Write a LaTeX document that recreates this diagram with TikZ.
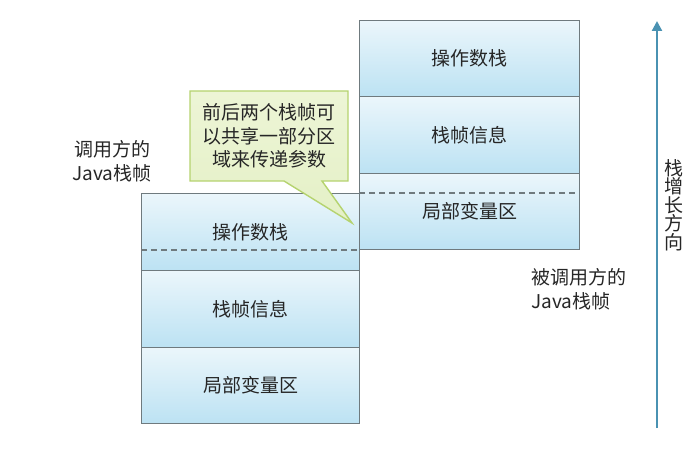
\documentclass[tikz,border=0pt]{standalone}
\usepackage{fontspec}
\setmainfont{Noto Sans CJK SC}
\usetikzlibrary{arrows.meta}
\definecolor{txt}{HTML}{262626}
\definecolor{boxline}{HTML}{6F7A7E}
\definecolor{celltop}{HTML}{EBF6FB}
\definecolor{cellbot}{HTML}{BCE2F3}
\definecolor{notefill}{HTML}{E4F0C6}
\definecolor{notetop}{HTML}{EDF5D6}
\definecolor{noteline}{HTML}{B5D36F}
\definecolor{arrowc}{HTML}{4A92B2}
\begin{document}
\begin{tikzpicture}[x=1pt,y=-1pt,
  cell/.style={draw=boxline, line width=1pt, top color=celltop, bottom color=cellbot,
    inner sep=0pt, anchor=north west, font=\fontsize{19}{23.5}\selectfont, text=txt},
  leftcell/.style={cell, minimum width=218pt},
  rightcell/.style={cell, minimum width=220pt},
  dashline/.style={draw=boxline, line width=1.2pt, dash pattern=on 6pt off 4pt},
  lbl/.style={font=\fontsize{19}{23.5}\selectfont, text=txt, inner sep=0pt},
  growarrow/.style={draw=arrowc, line width=2.2pt, -{Triangle[width=10pt,length=10pt]}}]
\useasboundingbox (0,0) rectangle (699,460);
% left (caller) frame
\node[leftcell, minimum height=77pt] (L1) at (141,193) {操作数栈};
\node[leftcell, minimum height=77pt] (L2) at (141,270) {栈帧信息};
\node[leftcell, minimum height=76pt] (L3) at (141,347) {局部变量区};
\draw[dashline] ([yshift=21pt]L1.south west) -- ([yshift=21pt]L1.south east);
% right (callee) frame
\node[rightcell, minimum height=76pt] (R1) at (359,20) {操作数栈};
\node[rightcell, minimum height=77pt] (R2) at (359,96) {栈帧信息};
\node[rightcell, minimum height=76pt] (R3) at (359,173) {局部变量区};
\draw[dashline] ([yshift=-20pt]R3.north west) -- ([yshift=-20pt]R3.north east);
% callout
\coordinate (tip) at (352,223);
\draw[draw=noteline, line width=1.4pt, top color=notetop, bottom color=notefill, line join=miter]
  (190,91) -- (348,91) -- (348,181) -- (322,181) -- (tip) -- (284,181) -- (190,181) -- cycle;
\node[lbl, align=center] (note) at (269,136) {前后两个栈帧可\\以共享一部分区\\域来传递参数};
% labels
\node[lbl, align=center] (callerlbl) at (112,161) {调用方的\\Java栈帧};
\node[lbl, align=left, anchor=west] (calleelbl) at (531,289) {被调用方的\\Java栈帧};
% growth arrow
\coordinate (abot) at (657,428);
\coordinate (atop) at (657,21);
\draw[growarrow] (abot) -- (atop);
\node[font=\fontsize{19}{18.5}\selectfont, text=txt, align=center, inner sep=0pt] (grow) at (674,205) {栈\\增\\长\\方\\向};
\end{tikzpicture}
\end{document}
